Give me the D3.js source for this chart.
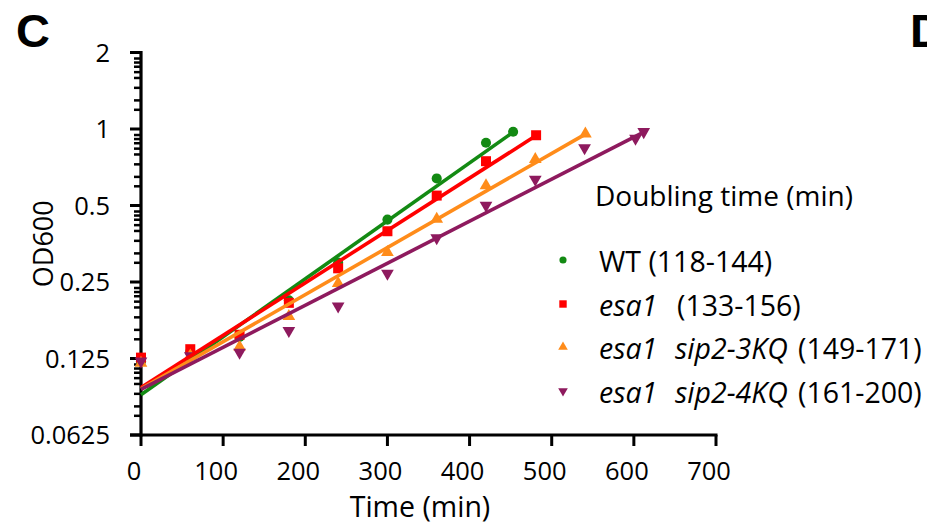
<!DOCTYPE html>
<html>
<head>
<meta charset="utf-8">
<script src="https://cdn.jsdelivr.net/npm/d3@7"></script>
<style>
  body { margin: 0; background: #fff; }
  text { font-family: "Open Sans", "Noto Sans", sans-serif; fill: #000; }
</style>
</head>
<body>
<div id="chart"></div>
<script>
// growth curves, OD600 vs time (min)
const wtTime = [0, 60, 120, 180, 240, 300, 360, 420, 453];
const wtOD = [0.122, 0.133, 0.152, 0.212, 0.298, 0.44, 0.639, 0.883, 0.975];
const esa1Time = [0, 60, 120, 180, 240, 300, 360, 420, 481];
const esa1OD = [0.126, 0.136, 0.155, 0.207, 0.283, 0.396, 0.547, 0.747, 0.945];
const kq3Time = [0, 60, 120, 180, 240, 300, 360, 420, 480, 541];
const kq3OD = [0.12, 0.128, 0.139, 0.183, 0.247, 0.327, 0.442, 0.599, 0.759, 0.957];
const kq4Time = [0, 60, 120, 180, 240, 300, 360, 420, 480, 540, 602, 612];
const kq4OD = [0.122, 0.128, 0.132, 0.161, 0.201, 0.27, 0.373, 0.5, 0.633, 0.843, 0.918, 0.975];

// exponential trendlines: OD at t=0 and doubling time (min)
const fitStart = [0.090, 0.096, 0.095, 0.0945];
const fitDoubling = [132, 146, 162.5, 182];

const seriesNames = ['WT', 'esa1', 'esa1 sip2-3KQ', 'esa1 sip2-4KQ'];
const doublingRanges = ['(118-144)', '(133-156)', '(149-171)', '(161-200)'];
const colors = ['#138a13', '#ff0000', '#ff8c1a', '#8e1a5e'];
const symbols = ['circle', 'square', 'up', 'down'];

const xTicks = [0, 100, 200, 300, 400, 500, 600, 700];
const yTicks = [0.0625, 0.125, 0.25, 0.5, 1, 2];
const yTickLabels = ['0.0625', '0.125', '0.25', '0.5', '1', '2'];
const minorTickRatios = [0.947, 0.913, 0.879, 0.837, 0.794, 0.726, 0.648, 0.595];

const times = [wtTime, esa1Time, kq3Time, kq4Time];
const ods = [wtOD, esa1OD, kq3OD, kq4OD];
const series = seriesNames.map((name, i) => ({
  name, color: colors[i], symbol: symbols[i],
  points: times[i].map((t, j) => ({ t, v: ods[i][j] })),
  a: fitStart[i], d: fitDoubling[i]
}));

const width = 927, height = 526;
const svg = d3.select('#chart').append('svg')
  .attr('width', width).attr('height', height);

const x = d3.scaleLinear().domain([0, 700]).range([141, 716]);
const y = d3.scaleLog().base(2).domain([0.0625, 2]).range([435, 52.5]);

// panel letters (D is cut at the right edge, as in the figure)
svg.append('text').attr('x', 16).attr('y', 47)
  .style('font-family', '"Liberation Sans", Arial, sans-serif')
  .style('font-weight', 'bold').style('font-size', '47px').text('C');
svg.append('text').attr('x', 910).attr('y', 47)
  .style('font-family', '"Liberation Sans", Arial, sans-serif')
  .style('font-weight', 'bold').style('font-size', '47px').text('D');

// y axis: major + minor ticks on the left
const minorVals = [];
yTicks.slice(1).forEach(m => minorTickRatios.forEach(r => minorVals.push(m * r)));
svg.selectAll('.ymin').data(minorVals).enter().append('line')
  .attr('x1', 134).attr('x2', 141)
  .attr('y1', d => y(d)).attr('y2', d => y(d))
  .attr('stroke', '#000').attr('stroke-width', 2.5);
svg.selectAll('.ymaj').data(yTicks).enter().append('line')
  .attr('x1', 130).attr('x2', 141)
  .attr('y1', d => y(d)).attr('y2', d => y(d))
  .attr('stroke', '#000').attr('stroke-width', 3);
svg.append('line').attr('x1', x(0)).attr('x2', x(0))
  .attr('y1', y(2) - 1.5).attr('y2', y(0.0625) + 1.5)
  .attr('stroke', '#000').attr('stroke-width', 3.2);
svg.selectAll('.ylab').data(yTicks).enter().append('text')
  .attr('x', 110).attr('y', d => y(d)).attr('dy', '0.36em')
  .attr('text-anchor', 'end').style('font-size', '25.5px')
  .text((d, i) => yTickLabels[i]);
svg.append('text')
  .attr('transform', `translate(53, ${(y(0.5) + y(0.25)) / 2}) rotate(-90)`)
  .attr('text-anchor', 'middle').style('font-size', '27px').text('OD600');

// x axis
svg.append('line').attr('x1', 130).attr('x2', x(700) + 1.5)
  .attr('y1', y(0.0625)).attr('y2', y(0.0625))
  .attr('stroke', '#000').attr('stroke-width', 3.2);
svg.selectAll('.xtk').data(xTicks).enter().append('line')
  .attr('x1', d => x(d)).attr('x2', d => x(d))
  .attr('y1', y(0.0625)).attr('y2', y(0.0625) + 11)
  .attr('stroke', '#000').attr('stroke-width', 3);
svg.selectAll('.xlab').data(xTicks).enter().append('text')
  .attr('x', d => x(d) - 7).attr('y', 480)
  .attr('text-anchor', 'middle').style('font-size', '25.5px')
  .text(d => d);
svg.append('text').attr('x', 420).attr('y', 517)
  .attr('text-anchor', 'middle').style('font-size', '28.5px').text('Time (min)');

// markers
const shape = { circle: d3.symbolCircle, square: d3.symbolSquare, up: d3.symbolTriangle, down: d3.symbolTriangle };
const marker = (s, size) => d3.symbol().type(shape[s.symbol]).size(size)();
series.forEach(s => {
  svg.append('g').selectAll('path').data(s.points).enter().append('path')
    .attr('d', marker(s, s.symbol === 'circle' ? 80 : s.symbol === 'square' ? 100 : 70))
    .attr('transform', d => `translate(${x(d.t)}, ${y(d.v)})${s.symbol === 'down' ? ' rotate(180)' : ''}`)
    .attr('fill', s.color);
});

// trendlines (exponential -> straight on the log axis)
series.forEach(s => {
  const tEnd = d3.max(s.points, p => p.t);
  const gen = d3.line().x(t => x(t)).y(t => y(s.a * Math.pow(2, t / s.d)));
  svg.append('path').attr('d', gen([0, tEnd]))
    .attr('fill', 'none').attr('stroke', s.color).attr('stroke-width', 3.6);
});

// legend
svg.append('text').attr('x', 595).attr('y', 206).style('font-size', '28px')
  .text('Doubling time (min)');
const legendY = [272, 316, 359, 403];
series.forEach((s, i) => {
  const ly = legendY[i];
  svg.append('path')
    .attr('d', marker(s, s.symbol === 'circle' ? 40 : s.symbol === 'square' ? 55 : 40))
    .attr('transform', `translate(563, ${ly - 12})${s.symbol === 'down' ? ' rotate(180)' : ''}`)
    .attr('fill', s.color);
  const t = svg.append('text').attr('x', 599).attr('y', ly).style('font-size', '28.5px');
  if (i === 0) {
    t.append('tspan').text('WT ' + doublingRanges[i]);
  } else {
    t.append('tspan').style('font-style', 'italic').text('esa1');
    if (i > 1) {
      t.append('tspan').attr('x', 675).style('font-style', 'italic').text(s.name.split(' ')[1]);
      t.append('tspan').attr('x', 798).text(doublingRanges[i]);
    } else {
      t.append('tspan').attr('x', 677).text(doublingRanges[i]);
    }
  }
});
</script>
</body>
</html>
